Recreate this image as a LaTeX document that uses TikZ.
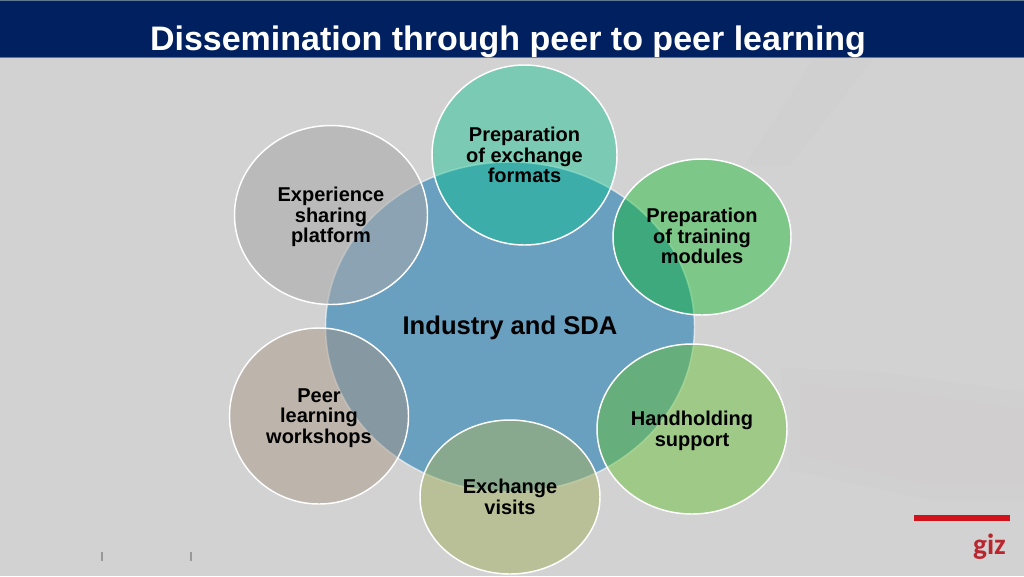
\documentclass[tikz,border=0pt]{standalone}
\usepackage{fontspec}
\setmainfont{Liberation Sans}
\newfontfamily\gizfont{Carlito}
\usetikzlibrary{shapes.geometric}
\definecolor{band}{HTML}{002060}
\definecolor{bandedge}{HTML}{5F7A90}
\definecolor{bgrey}{HTML}{D2D2D2}
\definecolor{warm}{HTML}{CCC7C5}
\definecolor{cblue}{RGB}{71,142,185}
\definecolor{cteal}{RGB}{0,193,139}
\definecolor{cgreen}{RGB}{5,185,34}
\definecolor{clime}{RGB}{102,192,54}
\definecolor{colive}{RGB}{165,179,104}
\definecolor{ctaupe}{RGB}{167,148,131}
\definecolor{cgrey}{RGB}{168,168,168}
\definecolor{gizred}{HTML}{D0121B}
\definecolor{gizword}{HTML}{B9262E}
\tikzset{
  x=0.75pt,y=-0.75pt,
  bubble/.style={ellipse,inner sep=0pt,outer sep=0pt,draw=white,line width=1.1pt,fill opacity=.41},
  wide/.style={bubble,fill opacity=.55},
  mid/.style={bubble,fill opacity=.48},
  hub/.style={bubble,fill=cblue,fill opacity=.75,draw opacity=.6},
  label/.style={inner sep=0pt,align=center,text=black,font=\bfseries\fontsize{15}{15.4}\selectfont},
  hublabel/.style={label,font=\bfseries\fontsize{19.2}{22}\selectfont},
  tick/.style={draw=black!40,line width=.8pt},
}
\begin{document}
\begin{tikzpicture}
\useasboundingbox (0,0) rectangle (1024,576);
\fill[bgrey] (0,0) rectangle (1024,576);
\fill[warm,opacity=.14] (815,57) -- (875,57) -- (790,165) -- (745,165) -- cycle;
\fill[warm,opacity=.12] (780,368) -- (880,372) -- (1024,392) -- (1024,500) -- (930,500) -- (790,470) -- cycle;
\fill[warm,opacity=.12] (800,385) -- (880,388) -- (1024,410) -- (1024,485) -- (930,485) -- (800,455) -- cycle;
\fill[band] (0,0) rectangle (1024,57);
\draw[bandedge,line width=.6pt] (0,57.3) -- (1024,57.3);
\draw[bandedge,line width=.5pt] (0,.4) -- (1024,.4);
\node[text=white,font=\bfseries\fontsize{25.5}{30}\selectfont,inner sep=0pt,anchor=base] (title) at (508,50) {Dissemination through peer to peer learning};
\node[hub,minimum width=369*0.75pt,minimum height=330*0.75pt] (hub) at (510,327) {};
\node[hublabel] (hubl) at (510,328) {Industry and SDA};
\node[bubble,fill=cteal,minimum width=185*0.75pt,minimum height=180*0.75pt] (a) at (524.5,155) {};
\node[label] (al) at (524.5,155) {Preparation\\of exchange\\formats};
\node[bubble,fill=cgreen,minimum width=178*0.75pt,minimum height=156*0.75pt] (b) at (702,237) {};
\node[label] (bl) at (702,236) {Preparation\\of training\\modules};
\node[mid,fill=clime,minimum width=190*0.75pt,minimum height=170*0.75pt] (c) at (692,429) {};
\node[label] (cl) at (692,431) {Handholding\\support};
\node[wide,fill=colive,minimum width=180*0.75pt,minimum height=154*0.75pt] (d) at (510,497) {};
\node[label] (dl) at (510,497) {Exchange\\visits};
\node[mid,fill=ctaupe,minimum width=179*0.75pt,minimum height=176*0.75pt] (e) at (319,416) {};
\node[label] (el) at (319,418) {Peer\\learning\\workshops};
\node[wide,fill=cgrey,minimum width=193*0.75pt,minimum height=179*0.75pt] (f) at (331,215) {};
\node[label] (fl) at (331,217) {Experience\\sharing\\platform};
\fill[gizred] (914,515) rectangle (1010,521);
\node[text=gizword,font=\gizfont\bfseries\fontsize{22}{22}\selectfont,inner sep=0pt,anchor=base] (giz) at (989.5,554.5) {giz};
\draw[tick] (102,552) -- (102,561);
\draw[tick] (191,552) -- (191,561);
\end{tikzpicture}
\end{document}
